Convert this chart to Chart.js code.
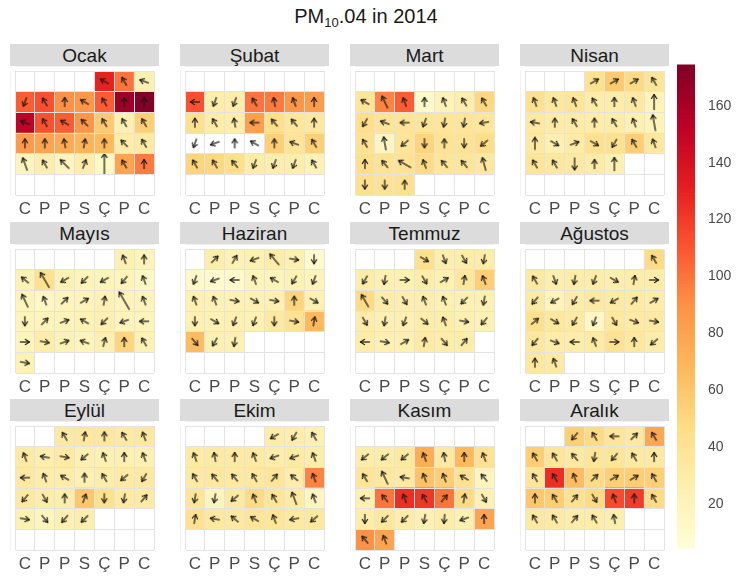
<!DOCTYPE html>
<html>
<head>
<meta charset="utf-8">
<script src="https://cdn.jsdelivr.net/npm/chart.js@4.4.1/dist/chart.umd.min.js"></script>
<style>
  body { margin: 0; background: #fff; font-family: "Liberation Sans", Arial, sans-serif; }
  #page { position: relative; width: 742px; height: 578px; overflow: hidden; }
  .title { position: absolute; left: 0; top: 3px; width: 732px; text-align: center; font-size: 20px; line-height: 26px; color: #1a1a1a; }
  .title sub { font-size: 13px; line-height: 0; vertical-align: -4px; }
  .strip { position: absolute; height: 22px; background: #dcdcdc; text-align: center; font-size: 19px; line-height: 23px; color: #1a1a1a; }
  canvas { position: absolute; }
</style>
</head>
<body>
<div id="page">
  <div class="title">PM<sub>10</sub>.04 in 2014</div>
</div>
<script>
// ---- data ----
const monthNames = ['Ocak', 'Şubat', 'Mart', 'Nisan', 'Mayıs', 'Haziran',
                    'Temmuz', 'Ağustos', 'Eylül', 'Ekim', 'Kasım', 'Aralık'];
// week starts on Saturday: Cumartesi, Pazar, Pazartesi, Salı, Çarşamba, Perşembe, Cuma
const dayKeys = ['Cts', 'Paz', 'Pzt', 'Sal', 'Çar', 'Per', 'Cum'];
const dayLetters = ['C', 'P', 'P', 'S', 'Ç', 'P', 'C'];

// daily PM10 (null = no data, white cell)
const pmOcak    = [130, 100, 25, 108, 112, 90, 88, 108, 163, 173, 152, 112, 108, 88, 58, 24, 55,
                   85, 80, 76, 70, 68, 30, 32, 18, 27, 18, 28, 14, 80, 98];
const pmSubat   = [112, 28, 28, 100, 98, 88, 84, 42, 30, 28, 82, 45, 37, 34,
                   null, null, null, null, 55, 38, 55, 52, 50, 45, 30, 28, 28, 23];
const pmMart    = [38, 95, 108, 12, 22, 27, 50, 44, 39, 39, 38, 38, 38, 37, 41, 16, 38, 52, 40, 40, 46,
                   44, 40, 40, 47, 38, 38, 35, 43, 40, 43];
const pmNisan   = [41, 58, 48, 38, 43, 35, 38, 29, 29, 33, 21, 33, 31, 31, 29, 29, 25, 21,
                   33, 25, 31, 43, 41, 56, 35, 38, 35, 33, 31, 25];
const pmMayis   = [25, 21, 23, 43, 23, 21, 21, 21, 15, 21, 15, 21, 21, 23, 21, 21, 21, 21, 21, 23, 25,
                   21, 21, 21, 29, 23, 21, 25, 52, 23, 23];
const pmHaziran = [27, 23, 25, 29, 25, 10, 12, 10, 10, 21, 21, 23, 21, 25, 23, 23, 23, 25, 52, 25,
                   25, 23, 25, 23, 33, 41, 68, 66, 25, 25];
const pmTemmuz  = [43, 27, 29, 29, 29, 25, 25, 29, 25, 35, 56, 48, 29, 27, 27, 25, 25, 25, 29, 25, 25,
                   29, 29, 25, 23, 29, 25, 25, 32, 29, 29];
const pmAgustos = [48, 33, 27, 29, 29, 27, 29, 29, 32, 21, 29, 33, 32, 32, 29, 43, 35, 32, 15, 35, 32,
                   32, 35, 29, 29, 32, 41, 35, 29, 35, 32];
const pmEylul   = [33, 35, 35, 32, 35, 32, 27, 32, 25, 25, 25, 25, 33, 29, 29, 25, 29, 32, 33,
                   33, 29, 27, 60, 43, 32, 32, 25, 18, 25, 27];
const pmEkim    = [29, 27, 25, 32, 33, 32, 32, 29, 32, 29, 33, 35, 33, 35, 38, 29, 95, 38, 18, 33, 48,
                   38, 32, 17, 41, 35, 33, 38, 38, 33, 35];
const pmKasim   = [29, 29, 33, 75, 33, 68, 41, 38, 35, 33, 63, 56, 41, 18, 25, 100, 125, 122, 100, 48,
                   23, 29, 35, 29, 25, 29, 25, 80, 90, 80];
const pmAralik  = [55, 48, 38, 33, 78, 56, 38, 33, 38, 38, 33, 33, 38, 125, 66, 48, 55, 56, 55,
                   60, 56, 41, 48, 115, 120, 48, 33, 32, 29, 29, 27];

// wind direction each arrow points to (degrees clockwise from north)
const wdOcak    = [300, 330, 290, 200, 330, 0, 300, 330, 0, 0, 290, 330, 300, 315, 330, 330, 330,
                   0, 0, 350, 10, 0, 315, 330, 340, 330, 315, 20, 0, 330, 0];
const wdSubat   = [270, 200, 200, 330, 350, 340, 0, 0, 330, 350, 270, 320, 320, 0,
                   200, 250, 0, 300, 0, 290, 330, 330, 330, 320, 200, 200, 200, 330];
const wdMart    = [300, 335, 340, 0, 340, 330, 330, 210, 290, 270, 200, 190, 190, 260, 330, 350, 230,
                   180, 0, 180, 230, 0, 320, 300, 340, 320, 320, 345, 180, 180, 0];
const wdNisan   = [60, 60, 60, 330, 340, 340, 340, 330, 0, 340, 0, 280, 0, 330, 0, 330, 340, 350,
                   0, 120, 70, 120, 210, 330, 340, 330, 330, 180, 0, 0];
const wdMayis   = [340, 0, 310, 330, 240, 225, 240, 220, 340, 335, 340, 45, 60, 10, 330, 340,
                   180, 45, 70, 300, 225, 250, 270, 90, 100, 70, 290, 15, 0, 330, 100];
const wdHaziran = [45, 30, 250, 320, 100, 180, 200, 250, 270, 340, 300, 210, 200, 340, 340, 100,
                   120, 100, 0, 120, 180, 120, 200, 200, 180, 100, 10, 140, 210, 190];
const wdTemmuz  = [120, 160, 150, 190, 210, 190, 90, 150, 60, 10, 340, 330, 140, 150, 340, 340, 225,
                   190, 150, 190, 200, 130, 340, 100, 220, 270, 100, 60, 10, 140, 40];
const wdAgustos = [330, 330, 160, 190, 200, 120, 10, 90, 220, 240, 210, 270, 240, 40, 60, 50, 120,
                   210, 200, 150, 110, 100, 220, 110, 270, 340, 90, 0, 230, 0, 340];
const wdEylul   = [330, 10, 0, 330, 340, 340, 280, 100, 230, 340, 0, 340, 270, 340, 300, 0, 330,
                   230, 210, 220, 150, 0, 20, 180, 190, 40, 100, 140, 220, 225];
const wdEkim    = [240, 210, 330, 340, 350, 0, 340, 250, 250, 340, 330, 320, 320, 330, 40, 310, 340,
                   190, 190, 230, 340, 330, 340, 340, 10, 280, 310, 300, 340, 260, 230];
const wdKasim   = [230, 230, 230, 340, 350, 0, 340, 330, 335, 280, 340, 340, 300, 320, 270, 320, 340,
                   330, 40, 10, 150, 180, 225, 225, 190, 185, 250, 0, 320, 340];
const wdAralik  = [220, 330, 270, 45, 330, 330, 330, 320, 190, 220, 330, 0, 330, 330, 340, 45, 60,
                   60, 330, 0, 330, 40, 150, 340, 0, 330, 330, 330, 40, 330, 350];

// wind speed: ordinary days share one value, windy days listed as [month, day, speed]
const wsUsual = 3;
const wsWindyDays = [[0, 25, 4.2], [0, 27, 4], [0, 29, 7], [2, 2, 4.2], [2, 16, 4.2], [2, 24, 4.5],
                     [2, 28, 4.2], [3, 11, 5], [3, 18, 5.2], [3, 19, 4], [3, 28, 4], [3, 30, 4.2],
                     [4, 4, 5.5], [4, 10, 4.5], [4, 15, 6.5], [5, 4, 4.5], [6, 12, 4.5], [9, 23, 4.2],
                     [10, 9, 4.5]];

// colour key
const keyTicks = [20, 40, 60, 80, 100, 120, 140, 160];
const KEY_MIN = 4.5, KEY_MAX = 174.5;

const pmByMonth = [pmOcak, pmSubat, pmMart, pmNisan, pmMayis, pmHaziran,
                   pmTemmuz, pmAgustos, pmEylul, pmEkim, pmKasim, pmAralik];
const wdByMonth = [wdOcak, wdSubat, wdMart, wdNisan, wdMayis, wdHaziran,
                   wdTemmuz, wdAgustos, wdEylul, wdEkim, wdKasim, wdAralik];

// ---- layout ----
const PANEL_X0 = 10, PANEL_DX = 170, PANEL_W = 149;
const STRIP_TOPS = [44, 222, 399];
const STRIP_H = 22, GRID_H = 129, AXIS_H = 30;
const ARROW_PX = 3.0; // arrow length per unit of wind speed

const heatStops = ['#ffffcc', '#ffeda0', '#fed976', '#feb24c', '#fd8d3c', '#fc4e2a', '#e31a1c', '#bd0026', '#800026'];

function hexRgb(h) {
  return [1, 3, 5].map(i => parseInt(h.slice(i, i + 2), 16));
}

// YlOrRd ramp, pale end softened a little
function heat(v) {
  const n = heatStops.length - 1;
  const u = Math.max(0, Math.min(1, (v - KEY_MIN) / (KEY_MAX - KEY_MIN)));
  const t = u * n;
  const i = Math.min(Math.floor(t), n - 1), f = t - i;
  const a = hexRgb(heatStops[i]), b = hexRgb(heatStops[i + 1]);
  const soft = 0.22 * Math.pow(1 - u, 2);
  const c = a.map((x, k) => {
    const y = x + (b[k] - x) * f;
    return Math.round(y + (250 - y) * soft);
  });
  return `rgb(${c[0]},${c[1]},${c[2]})`;
}

// calendar cell of a date: column = weekday from Saturday, row = week of month
function cellOf(month, day) {
  const first = (new Date(2014, month, 1).getDay() + 1) % 7;
  const offset = first === 0 ? 7 : first;
  const col = (new Date(2014, month, day).getDay() + 1) % 7;
  return { col, row: Math.floor((offset + day - 1) / 7) };
}

function windOf(month, day) {
  const hit = wsWindyDays.find(w => w[0] === month && w[1] === day);
  return hit ? hit[2] : wsUsual;
}

const arrowCache = {};
function arrowImage(len) {
  const key = Math.round(len);
  if (arrowCache[key]) return arrowCache[key];
  const s = key + 10 + (key % 2);
  const c = document.createElement('canvas');
  c.width = s; c.height = s;
  const g = c.getContext('2d');
  const cx = s / 2, top = s / 2 - key / 2, bot = s / 2 + key / 2;
  g.strokeStyle = '#1a1a1a';
  g.lineWidth = 1.25;
  g.lineCap = 'round';
  g.lineJoin = 'round';
  g.beginPath();
  g.moveTo(cx, bot);
  g.lineTo(cx, top);
  g.stroke();
  g.beginPath();
  g.moveTo(cx - 2.6, top + 4);
  g.lineTo(cx, top);
  g.lineTo(cx + 2.6, top + 4);
  g.stroke();
  arrowCache[key] = c;
  return c;
}

const page = document.getElementById('page');

function addCanvas(left, top, w, h) {
  const cv = document.createElement('canvas');
  cv.width = w; cv.height = h;
  cv.style.left = left + 'px';
  cv.style.top = top + 'px';
  page.appendChild(cv);
  return cv;
}

function drawMonth(m) {
  const left = PANEL_X0 + (m % 4) * PANEL_DX;
  const stripTop = STRIP_TOPS[Math.floor(m / 4)];

  const strip = document.createElement('div');
  strip.className = 'strip';
  strip.style.left = left + 'px';
  strip.style.top = stripTop + 'px';
  strip.style.width = PANEL_W + 'px';
  strip.textContent = monthNames[m];
  page.appendChild(strip);

  const cells = [], arrows = [];
  pmByMonth[m].forEach((v, i) => {
    const day = i + 1;
    const { col, row } = cellOf(m, day);
    if (v !== null) cells.push({ x: dayKeys[col], y: [row, row + 1], v });
    arrows.push({ x: dayKeys[col], y: row + 0.5, wd: wdByMonth[m][i], ws: windOf(m, day) });
  });

  const cv = addCanvas(left, stripTop + STRIP_H, PANEL_W, GRID_H + AXIS_H);
  new Chart(cv, {
    type: 'bar',
    data: {
      labels: dayKeys,
      datasets: [
        {
          type: 'scatter',
          data: arrows,
          pointStyle: ctx => ctx.raw ? arrowImage(ctx.raw.ws * ARROW_PX) : 'circle',
          rotation: ctx => ctx.raw ? ctx.raw.wd : 0,
          radius: 3,
          order: 0
        },
        {
          data: cells,
          backgroundColor: ctx => ctx.raw ? heat(ctx.raw.v) : '#fff',
          borderWidth: 0,
          categoryPercentage: 1,
          barPercentage: 1,
          order: 1
        }
      ]
    },
    options: {
      responsive: false,
      animation: false,
      events: [],
      layout: { padding: 0 },
      plugins: { legend: { display: false }, tooltip: { enabled: false } },
      scales: {
        x: {
          type: 'category',
          offset: true,
          grid: { offset: true, color: '#e3e3e3', drawTicks: false, z: 1 },
          border: { color: '#e3e3e3' },
          ticks: {
            padding: 4,
            color: '#4a4a4a',
            font: { family: 'Liberation Sans, Arial, sans-serif', size: 17 },
            callback: (val, i) => dayLetters[i]
          },
          afterFit: s => { s.height = AXIS_H; }
        },
        y: {
          type: 'linear',
          min: 0,
          max: 6,
          reverse: true,
          grid: { color: '#e3e3e3', drawTicks: false, z: 1 },
          border: { color: '#e3e3e3' },
          ticks: { display: false, stepSize: 1 },
          afterFit: s => { s.width = 0; }
        }
      }
    }
  });
}

for (let m = 0; m < 12; m++) drawMonth(m);

// colour key on the right
const keyLevels = [];
for (let v = KEY_MIN; v < KEY_MAX; v += 1) keyLevels.push(v);

const keyCanvas = addCanvas(677, 43, 65, 527);
new Chart(keyCanvas, {
  type: 'bar',
  data: {
    labels: ['key'],
    datasets: [{
      data: keyLevels.map(v => ({ x: 'key', y: [v, Math.min(v + 1.3, KEY_MAX)] })),
      backgroundColor: ctx => ctx.raw ? heat(ctx.raw.y[0] + 0.5) : '#fff',
      borderWidth: 0,
      categoryPercentage: 1,
      barPercentage: 1
    }]
  },
  options: {
    responsive: false,
    animation: false,
    events: [],
    layout: { padding: 0 },
    plugins: { legend: { display: false }, tooltip: { enabled: false } },
    scales: {
      x: { display: false },
      y: {
        position: 'right',
        min: KEY_MIN,
        max: KEY_MAX,
        grid: { display: false, drawTicks: false },
        border: { display: false },
        afterBuildTicks: s => { s.ticks = keyTicks.map(v => ({ value: v })); },
        ticks: {
          padding: 13,
          color: '#4a4a4a',
          font: { family: 'Liberation Sans, Arial, sans-serif', size: 14 }
        },
        afterFit: s => { s.width = 47; }
      }
    }
  }
});
</script>
</body>
</html>
